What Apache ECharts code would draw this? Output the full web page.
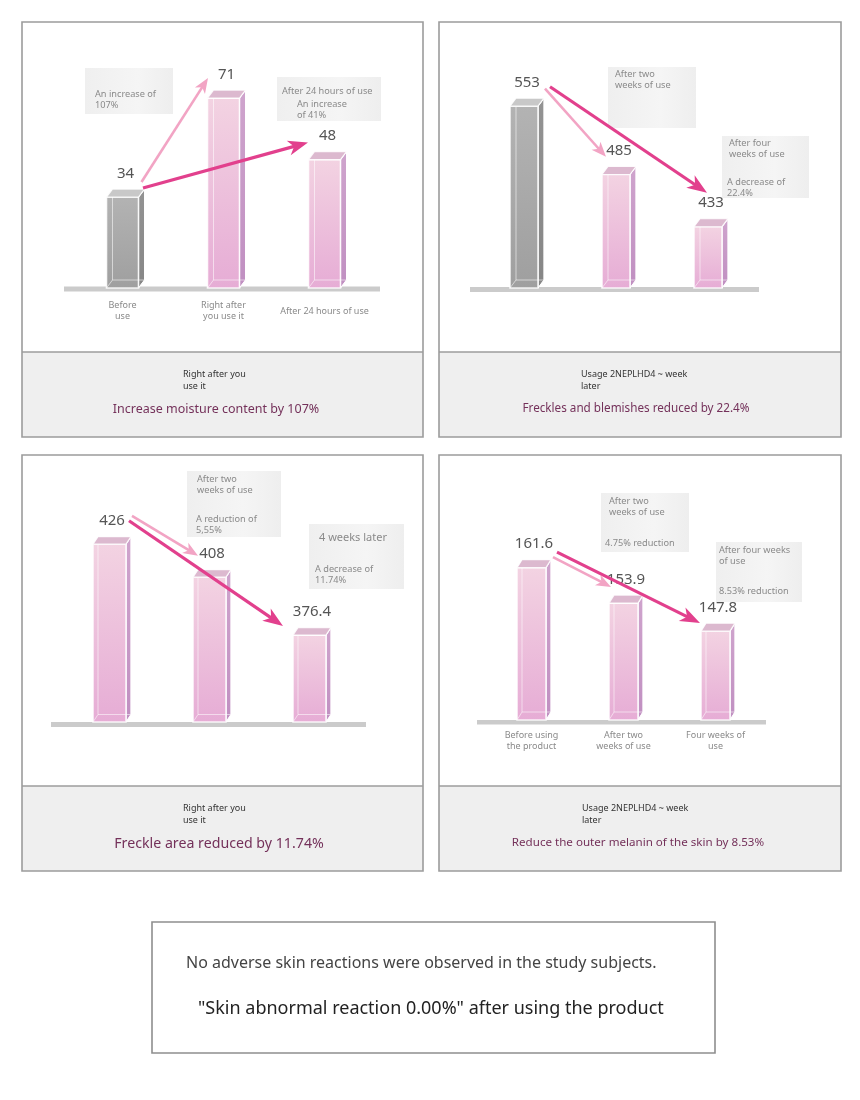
<!DOCTYPE html>
<html><head><meta charset="utf-8">
<script src="https://cdn.jsdelivr.net/npm/echarts@6/dist/echarts.min.js"></script>
<style>html,body{margin:0;padding:0;background:#fff}#c{width:860px;height:1100px}</style>
</head><body><div id="c"></div>
<script>
// ---------------- data ----------------
const moistureCategories = ['Before\nuse', 'Right after\nyou use it', 'After 24 hours of use'];
const moistureValues = [34, 71, 48];
const frecklesCategories = ['Before use', 'After two weeks of use', 'After four weeks of use'];
const frecklesValues = [553, 485, 433];
const freckleAreaCategories = ['Before use', 'After two weeks of use', 'After four weeks of use'];
const freckleAreaValues = [426, 408, 376.4];
const melaninCategories = ['Before using\nthe product', 'After two\nweeks of use', 'Four weeks of\nuse'];
const melaninValues = [161.6, 153.9, 147.8];

const footerNotes = ['Right after you\nuse it', 'Usage 2NEPLHD4 ~ week\nlater', 'Right after you\nuse it', 'Usage 2NEPLHD4 ~ week\nlater'];
const footerTitles = ['Increase moisture content by 107%', 'Freckles and blemishes reduced by 22.4%', 'Freckle area reduced by 11.74%', 'Reduce the outer melanin of the skin by 8.53%'];
const noteTexts = [
  ['An increase of\n107%', 'After 24 hours of use', 'An increase\nof 41%'],
  ['After two\nweeks of use', 'After four\nweeks of use', 'A decrease of\n22.4%'],
  ['After two\nweeks of use', 'A reduction of\n5,55%', '4 weeks later', 'A decrease of\n11.74%'],
  ['After two\nweeks of use', '4.75% reduction', 'After four weeks\nof use', '8.53% reduction']
];
const summaryLines = ['No adverse skin reactions were observed in the study subjects.', '"Skin abnormal reaction 0.00%" after using the product'];

// ---------------- layout / style ----------------
const FONT = '"Noto Sans", "Open Sans", sans-serif';
const panels = [
  {cats: moistureCategories, vals: moistureValues, grid: {left: 72, top: 74, width: 303, height: 214}, min: 0, max: 80,
   fw: 32, dx: 6, dy: 8, greyFirst: true, labelShow: true, labelMargin: 23},
  {cats: frecklesCategories, vals: frecklesValues, grid: {left: 478, top: 59, width: 276, height: 229}, min: 372, max: 600,
   fw: 28, dx: 6, dy: 8, greyFirst: true, labelShow: false, labelMargin: 20},
  {cats: freckleAreaCategories, vals: freckleAreaValues, grid: {left: 59.5, top: 502, width: 300, height: 220}, min: 329, max: 449,
   fw: 33, dx: 5, dy: 7.5, greyFirst: false, labelShow: false, labelMargin: 20},
  {cats: melaninCategories, vals: melaninValues, grid: {left: 485.5, top: 529, width: 276, height: 191}, min: 128.5, max: 170,
   fw: 29, dx: 5, dy: 8, greyFirst: false, labelShow: true, labelMargin: 20.5}
];
const frames = [[22, 22, 401, 415, 352], [439, 22, 402, 415, 352], [22, 455, 401, 416, 786], [439, 455, 402, 416, 786]];
const baselines = [[64, 286.5, 316, 5], [470, 287, 289, 5], [51, 722, 315, 5], [477, 720, 289, 4.5]];
const noteBoxes = [
  [[85, 68, 88, 46], [277, 77, 104, 44]],
  [[608, 67, 88, 61], [722, 136, 87, 62]],
  [[187, 471, 94, 66], [309, 524, 95, 65]],
  [[601, 493, 88, 59], [716, 542, 86, 60]]
];
const notePos = [
  [[95, 88.5, 9.2], [282, 85.5, 9.2], [297, 98.5, 9.2]],
  [[615, 68.5, 9.2], [729, 137.5, 9.2], [727, 176.5, 9.2]],
  [[197, 473.5, 9.2], [196, 513.5, 9.2], [319, 532, 11], [315, 563.5, 9.2]],
  [[609, 495.5, 9.2], [605, 537.5, 9.2], [719, 544.5, 9.2], [719, 585.5, 9.2]]
];
const footerNotePos = [[183, 368], [581, 368], [183, 802], [582, 802]];
const footerTitlePos = [[216, 409, 12.5], [636, 409, 11.7], [219, 844, 14.2], [638, 843, 11.6]];
const arrows = [
  {panel: 0, from: 0, to: 1, kind: 'light', s: [19, -15], e: [-15.5, -20]},
  {panel: 0, from: 0, to: 2, kind: 'dark', s: [20.5, -9], e: [-16.5, -17]},
  {panel: 1, from: 0, to: 1, kind: 'light', s: [21, -17.5], e: [-10, -17.7]},
  {panel: 1, from: 0, to: 2, kind: 'dark', s: [26, -19.5], e: [-1, -34]},
  {panel: 2, from: 0, to: 1, kind: 'light', s: [22.5, -28.4], e: [-11.5, -21.4]},
  {panel: 2, from: 0, to: 2, kind: 'dark', s: [19.5, -23.4], e: [-26.5, -9.2]},
  {panel: 3, from: 0, to: 1, kind: 'light', s: [21.5, -10.6], e: [-12.5, -16.2]},
  {panel: 3, from: 0, to: 2, kind: 'dark', s: [25.5, -15.6], e: [-15.5, -8.1]}
];
const arrowStyles = {
  light: {color: '#f2a4c4', width: 2.6, head: 15, headW: 12},
  dark: {color: '#e2408d', width: 3.2, head: 20, headW: 15}
};

function lin(c0, c1) {
  return {type: 'linear', x: 0, y: 0, x2: 0, y2: 1, colorStops: [{offset: 0, color: c0}, {offset: 1, color: c1}]};
}
const pinkStyle = {front: lin('#f3d3e2', '#e6acd5'), side: lin('#cfa4cd', '#c08fc1'), top: '#dcb9cf'};
const greyStyle = {front: lin('#b3b3b3', '#9f9f9f'), side: lin('#939393', '#868686'), top: '#c8c8c8'};

function makeRender(cfg) {
  return function (params, api) {
    const idx = api.value(0), v = api.value(1);
    const p = api.coord([idx, v]);
    const cs = params.coordSys;
    const yb = cs.y + cs.height;
    const yt = p[1];
    const x0 = p[0] - cfg.fw / 2, x1 = p[0] + cfg.fw / 2;
    const dx = cfg.dx, dy = cfg.dy;
    const st = (cfg.greyFirst && idx === 0) ? greyStyle : pinkStyle;
    const edge = 'rgba(255,255,255,0.85)';
    return {
      type: 'group',
      children: [
        {type: 'polygon', shape: {points: [[x1, yt], [x1 + dx, yt - dy], [x1 + dx, yb - dy], [x1, yb]]},
         style: {fill: st.side, stroke: edge, lineWidth: 1}},
        {type: 'rect', shape: {x: x0, y: yt, width: cfg.fw, height: yb - yt},
         style: {fill: st.front, stroke: edge, lineWidth: 1.6}},
        {type: 'polyline', shape: {points: [[x0 + dx, yt - dy + 1], [x0 + dx, yb - dy], [x1 + dx, yb - dy]]},
         style: {stroke: 'rgba(255,255,255,0.55)', lineWidth: 1, fill: null}},
        {type: 'line', shape: {x1: x0, y1: yb, x2: x0 + dx, y2: yb - dy},
         style: {stroke: 'rgba(255,255,255,0.55)', lineWidth: 1}},
        {type: 'polygon', shape: {points: [[x0, yt], [x1, yt], [x1 + dx, yt - dy], [x0 + dx, yt - dy]]},
         style: {fill: st.top, stroke: edge, lineWidth: 1.2}},
        {type: 'text', x: p[0] + dx / 2, y: yt - dy - 8,
         style: {text: String(v), fill: '#555', font: '15px ' + FONT, textAlign: 'center', textVerticalAlign: 'bottom'}}
      ]
    };
  };
}

const chart = echarts.init(document.getElementById('c'), null, {renderer: 'canvas'});

const option = {
  animation: false,
  backgroundColor: '#ffffff',
  grid: panels.map(pn => Object.assign({containLabel: false}, pn.grid)),
  xAxis: panels.map((pn, i) => ({
    type: 'category', gridIndex: i, data: pn.cats,
    axisLine: {show: false}, axisTick: {show: false}, splitLine: {show: false},
    axisLabel: {show: pn.labelShow, color: '#8a8a8a', fontSize: 9, lineHeight: 11, fontFamily: FONT,
                margin: pn.labelMargin, verticalAlign: 'middle', interval: 0}
  })),
  yAxis: panels.map((pn, i) => ({
    type: 'value', gridIndex: i, min: pn.min, max: pn.max, show: false, splitLine: {show: false}
  })),
  series: panels.map((pn, i) => ({
    type: 'custom', xAxisIndex: i, yAxisIndex: i, clip: false, z: 5,
    data: pn.vals.map((v, k) => [k, v]),
    renderItem: makeRender(pn)
  }))
};
chart.setOption(option);

// ---------------- decorations ----------------
const g = [];
frames.forEach(([x, y, w, h, ft], i) => {
  g.push({type: 'rect', z: 0, shape: {x: x, y: y, width: w, height: h}, style: {fill: '#ffffff'}});
  g.push({type: 'rect', z: 1, shape: {x: x, y: ft, width: w, height: y + h - ft}, style: {fill: '#efefef'}});
  g.push({type: 'line', z: 2, shape: {x1: x, y1: ft, x2: x + w, y2: ft}, style: {stroke: '#9c9c9c', lineWidth: 1.6}});
  g.push({type: 'rect', z: 2, shape: {x: x, y: y, width: w, height: h}, style: {fill: null, stroke: '#9c9c9c', lineWidth: 1.6}});
  g.push({type: 'text', z: 3, x: footerNotePos[i][0], y: footerNotePos[i][1],
          style: {text: footerNotes[i], fill: '#333', font: '9px ' + FONT, lineHeight: 12, textAlign: 'left', textVerticalAlign: 'top'}});
  g.push({type: 'text', z: 3, x: footerTitlePos[i][0], y: footerTitlePos[i][1],
          style: {text: footerTitles[i], fill: '#74315a', font: footerTitlePos[i][2] + 'px ' + FONT, textAlign: 'center', textVerticalAlign: 'middle'}});
});
baselines.forEach(([x, y, w, h]) => {
  g.push({type: 'rect', z: 1, shape: {x: x, y: y, width: w, height: h}, style: {fill: '#cbcbcb'}});
});
noteBoxes.forEach(boxes => boxes.forEach(([x, y, w, h]) => {
  g.push({type: 'rect', z: 1, shape: {x: x, y: y, width: w, height: h},
          style: {fill: {type: 'linear', x: 0, y: 0, x2: 1, y2: 0, colorStops: [{offset: 0, color: '#efefef'}, {offset: 0.6, color: '#f5f5f5'}, {offset: 1, color: '#eeeeee'}]}}});
}));
noteTexts.forEach((texts, i) => texts.forEach((t, k) => {
  const [x, y, fs] = notePos[i][k];
  g.push({type: 'text', z: 3, x: x, y: y,
          style: {text: t, fill: '#8a8a8a', font: fs + 'px ' + FONT, lineHeight: 11, textAlign: 'left', textVerticalAlign: 'top'}});
}));
// summary box
g.push({type: 'rect', z: 1, shape: {x: 152, y: 922, width: 563, height: 131}, style: {fill: '#fff', stroke: '#8e8e8e', lineWidth: 1.6}});
g.push({type: 'text', z: 3, x: 186, y: 963, style: {text: summaryLines[0], fill: '#444', font: '16px ' + FONT, textAlign: 'left', textVerticalAlign: 'middle'}});
g.push({type: 'text', z: 3, x: 198, y: 1009, style: {text: summaryLines[1], fill: '#222', font: '18px ' + FONT, textAlign: 'left', textVerticalAlign: 'middle'}});

// arrows between bar values (positions via chart scales)
arrows.forEach(a => {
  const pn = panels[a.panel];
  const p0 = chart.convertToPixel({gridIndex: a.panel}, [a.from, pn.vals[a.from]]);
  const p1 = chart.convertToPixel({gridIndex: a.panel}, [a.to, pn.vals[a.to]]);
  const s = [p0[0] + a.s[0], p0[1] + a.s[1]];
  const e = [p1[0] + a.e[0], p1[1] + a.e[1]];
  const st = arrowStyles[a.kind];
  const ddx = e[0] - s[0], ddy = e[1] - s[1], L = Math.hypot(ddx, ddy);
  const ux = ddx / L, uy = ddy / L, nx = -uy, ny = ux;
  const bx = e[0] - ux * st.head, by = e[1] - uy * st.head;
  const notch = [e[0] - ux * st.head * 0.72, e[1] - uy * st.head * 0.72];
  g.push({type: 'line', z: 20, shape: {x1: s[0], y1: s[1], x2: notch[0] + ux, y2: notch[1] + uy},
          style: {stroke: st.color, lineWidth: st.width, lineCap: 'butt'}});
  g.push({type: 'polygon', z: 21, shape: {points: [e, [bx + nx * st.headW / 2, by + ny * st.headW / 2], notch, [bx - nx * st.headW / 2, by - ny * st.headW / 2]]},
          style: {fill: st.color}});
});

chart.setOption({graphic: {elements: g}});
</script>
</body></html>
